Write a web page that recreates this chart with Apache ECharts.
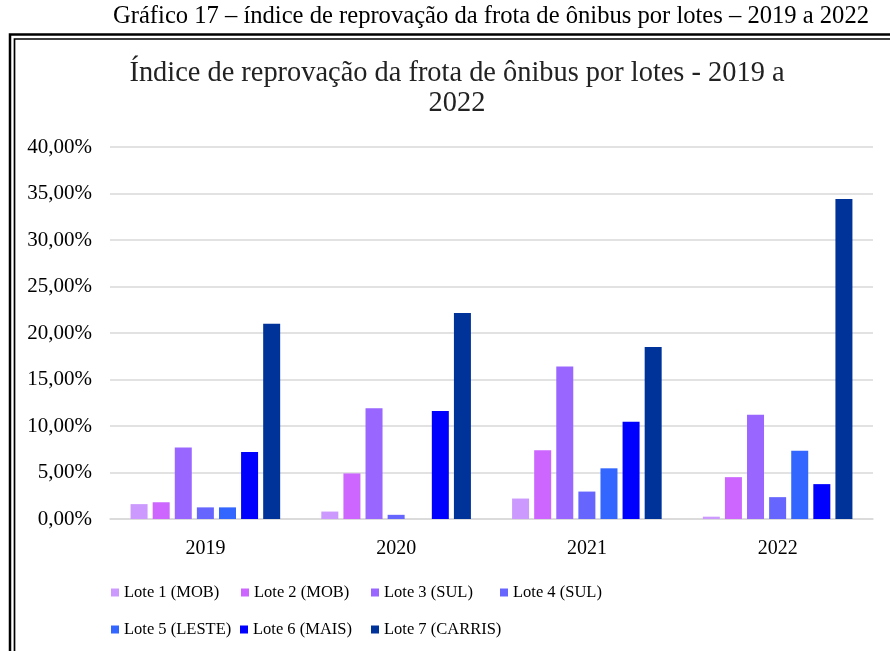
<!DOCTYPE html>
<html>
<head>
<meta charset="utf-8">
<script src="https://cdn.jsdelivr.net/npm/echarts@6/dist/echarts.min.js"></script>
<style>
  html, body { margin: 0; padding: 0; background: #fff; }
  #chart { width: 890px; height: 651px; }
</style>
</head>
<body>
<div id="chart"></div>
<script>
  // dados (%)
  var anos = ['2019', '2020', '2021', '2022'];
  var lotes = ['Lote 1 (MOB)', 'Lote 2 (MOB)', 'Lote 3 (SUL)', 'Lote 4 (SUL)', 'Lote 5 (LESTE)', 'Lote 6 (MAIS)', 'Lote 7 (CARRIS)'];
  var lote1 = [1.6, 0.8, 2.2, 0.25];
  var lote2 = [1.8, 4.9, 7.4, 4.5];
  var lote3 = [7.7, 11.9, 16.4, 11.2];
  var lote4 = [1.25, 0.45, 2.95, 2.35];
  var lote5 = [1.25, 0, 5.45, 7.35];
  var lote6 = [7.2, 11.6, 10.45, 3.75];
  var lote7 = [21.0, 22.15, 18.5, 34.4];
  var cores = ['#cc99ff', '#cc66ff', '#9966ff', '#6666ff', '#3366ff', '#0000ff', '#003399'];
  var valores = [lote1, lote2, lote3, lote4, lote5, lote6, lote7];

  var fonte = '"Liberation Serif", "DejaVu Serif", serif';
  var chart = echarts.init(document.getElementById('chart'));

  var series = lotes.map(function (nome, i) {
    return {
      name: nome,
      type: 'bar',
      barWidth: 17,
      barGap: '30%',
      itemStyle: { color: cores[i] },
      data: valores[i]
    };
  });

  // posição de cada item da legenda (duas linhas, colunas fixas)
  var legX = [106, 236, 366, 495, 106, 235, 366];
  var legY = [579, 579, 579, 579, 616, 616, 616];
  var legendas = lotes.map(function (nome, i) {
    return {
      left: legX[i],
      top: legY[i],
      itemWidth: 8,
      itemHeight: 8,
      icon: 'rect',
      textStyle: { fontFamily: fonte, fontSize: 16.5, color: '#000' },
      data: [nome]
    };
  });

  var option = {
    backgroundColor: '#fff',
    animation: false,
    color: cores,
    title: [
      {
        text: 'Gráfico 17 – índice de reprovação da frota de ônibus por lotes – 2019 a 2022',
        left: 486,
        top: -1,
        textAlign: 'center',
        textStyle: { fontFamily: fonte, fontSize: 24.6, fontWeight: 'normal', color: '#000' }
      },
      {
        text: 'Índice de reprovação da frota de ônibus por lotes - 2019 a\n2022',
        left: 452,
        top: 54,
        textAlign: 'center',
        textStyle: { fontFamily: fonte, fontSize: 28.4, fontWeight: 'normal', color: '#222', lineHeight: 30 }
      }
    ],
    legend: legendas,
    grid: { left: 110, right: 17, top: 147, bottom: 132 },
    xAxis: {
      type: 'category',
      data: anos,
      axisTick: { show: false },
      axisLine: { lineStyle: { color: '#d9d9d9', width: 1.5 } },
      axisLabel: { fontFamily: fonte, fontSize: 20, color: '#000', margin: 20 }
    },
    yAxis: {
      type: 'value',
      min: 0,
      max: 40,
      interval: 5,
      axisLine: { show: false },
      axisTick: { show: false },
      splitLine: { lineStyle: { color: '#d9d9d9', width: 1.5 } },
      axisLabel: {
        fontFamily: fonte,
        fontSize: 21,
        color: '#000',
        margin: 18,
        formatter: function (v) { return v.toFixed(2).replace('.', ',') + '%'; }
      }
    },
    graphic: [
      // moldura dupla
      { type: 'polyline', shape: { points: [[10, 651], [10, 34.5], [890, 34.5]] }, style: { stroke: '#000', lineWidth: 2.5, fill: null } },
      { type: 'polyline', shape: { points: [[14.5, 651], [14.5, 39], [890, 39]] }, style: { stroke: '#000', lineWidth: 1.7, fill: null } }
    ],
    series: series
  };

  chart.setOption(option);
</script>
</body>
</html>
